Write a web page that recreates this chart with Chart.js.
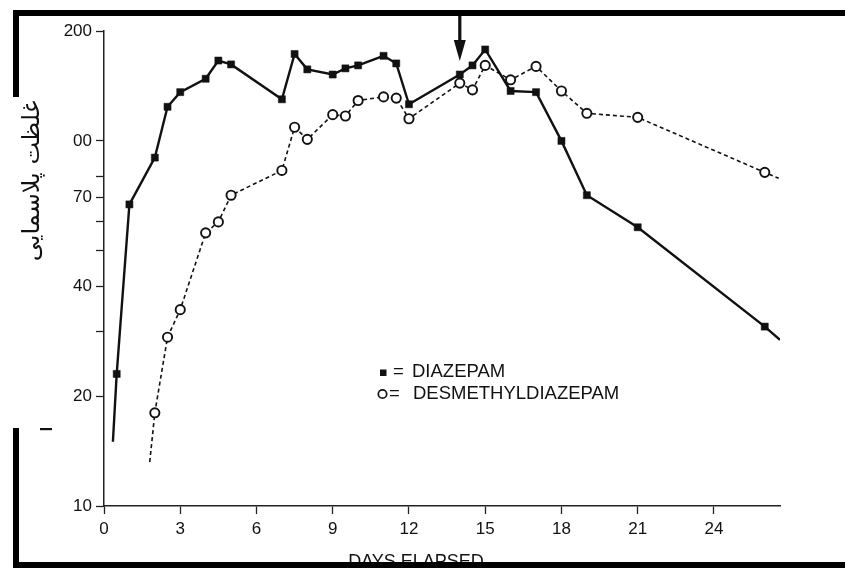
<!DOCTYPE html>
<html>
<head>
<meta charset="utf-8">
<script src="https://cdn.jsdelivr.net/npm/chart.js@4.4.1/dist/chart.umd.min.js"></script>
<style>
  html, body { margin: 0; padding: 0; background: #fff; }
  #plasmaChart { display: block; }
</style>
</head>
<body>
<canvas id="plasmaChart" width="845" height="568"></canvas>
<script>
// Days after the first dose; first and last entries are the unmarked line ends
const diazepamDays = [0.35, 0.5, 1, 2, 2.5, 3, 4, 4.5, 5, 7, 7.5, 8, 9, 9.5, 10, 11, 11.5, 12, 14, 14.5, 15, 16, 17, 18, 19, 21, 26, 26.6];
const diazepamLevels = [15, 23, 67, 90, 124, 136, 148, 166, 162, 130, 173, 157, 152, 158, 161, 171, 163, 126, 152, 161, 178, 137, 136, 100, 71, 58, 31, 28.5];

const desmethylDays = [1.8, 2, 2.5, 3, 4, 4.5, 5, 7, 7.5, 8, 9, 9.5, 10, 11, 11.5, 12, 14, 14.5, 15, 16, 17, 18, 19, 21, 26, 26.55];
const desmethylLevels = [13.2, 18, 29, 34.5, 56, 60, 71, 83, 109, 101, 118, 117, 129, 132, 131, 115, 144, 138, 161, 147, 160, 137, 119, 116, 82, 79];

const xTicks = [0, 3, 6, 9, 12, 15, 18, 21, 24];
const yTicks = [10, 20, 30, 40, 50, 60, 70, 80, 100, 200];
const yTickLabels = ['10', '20', '', '40', '', '', '70', '', '00', '200'];

const arrowDay = 14;
const yTitle = 'غلظت پلاسمایی';
const xTitle = 'DAYS ELAPSED';

const FONT = '"Liberation Sans", Arial, Helvetica, sans-serif';
const INK = '#111';

const toPoints = (xs, ys) => xs.map((x, i) => ({ x: x, y: ys[i] }));
// line ends carry no marker
const endless = (r) => (ctx) => {
    const n = ctx.dataset.data.length;
    return (ctx.dataIndex === 0 || ctx.dataIndex === n - 1) ? 0 : r;
};

const decorations = {
    id: 'decorations',
    afterDraw(chart) {
        const c = chart.ctx;
        const xs = chart.scales.x;
        c.save();

        // rotated y axis title
        c.save();
        c.translate(33, 181);
        c.rotate(-Math.PI / 2);
        c.font = '24px "DejaVu Sans", sans-serif';
        c.fillStyle = INK;
        c.textAlign = 'center';
        c.textBaseline = 'middle';
        c.fillText(yTitle, 0, 0);
        c.restore();

        // arrow marking the last dose
        const ax = xs.getPixelForValue(arrowDay);
        c.fillStyle = INK;
        c.fillRect(ax - 1.6, 16, 3.2, 26);
        c.beginPath();
        c.moveTo(ax - 6, 40);
        c.lineTo(ax + 6, 40);
        c.lineTo(ax, 61);
        c.closePath();
        c.fill();

        // key
        c.font = '18.5px ' + FONT;
        c.textBaseline = 'middle';
        c.textAlign = 'left';
        c.fillRect(380, 369.5, 6.5, 6.5);
        c.fillText('=', 393, 372);
        c.fillText(chart.data.datasets[0].label, 412, 372);
        c.beginPath();
        c.arc(382.5, 394, 4.2, 0, Math.PI * 2);
        c.fillStyle = '#fff';
        c.fill();
        c.lineWidth = 1.7;
        c.strokeStyle = INK;
        c.stroke();
        c.fillStyle = INK;
        c.fillText('=', 389, 394);
        c.fillText(chart.data.datasets[1].label, 413, 394);

        // x axis title, partly covered by the frame
        c.font = '18px ' + FONT;
        c.textAlign = 'center';
        c.textBaseline = 'alphabetic';
        c.fillText(xTitle, 416, 567);

        // stray mark left of the axis
        c.fillRect(40, 428, 12, 2.2);

        // black frame pieces
        c.fillStyle = '#000';
        c.fillRect(14, 10, 831, 6);
        c.fillRect(13, 10, 6, 87);
        c.fillRect(13, 428, 6, 140);
        c.fillRect(13, 562, 832, 6);

        c.restore();
    }
};

const ctx = document.getElementById('plasmaChart');
new Chart(ctx, {
    type: 'line',
    data: {
        datasets: [{
            label: 'DIAZEPAM',
            data: toPoints(diazepamDays, diazepamLevels),
            borderColor: INK,
            borderWidth: 2.4,
            pointStyle: 'rect',
            pointRadius: endless(5),
            pointBackgroundColor: INK,
            pointBorderColor: INK,
            pointBorderWidth: 0.5,
            tension: 0,
        }, {
            label: 'DESMETHYLDIAZEPAM',
            data: toPoints(desmethylDays, desmethylLevels),
            borderColor: INK,
            borderWidth: 1.6,
            borderDash: [4, 3],
            pointStyle: 'circle',
            pointRadius: endless(4.6),
            pointBackgroundColor: '#fff',
            pointBorderColor: INK,
            pointBorderWidth: 1.9,
            tension: 0,
        }],
    },
    options: {
        responsive: false,
        animation: false,
        events: [],
        layout: { padding: { top: 31, right: 65, bottom: 0, left: 0 } },
        plugins: {
            legend: { display: false },
            tooltip: { enabled: false },
        },
        scales: {
            x: {
                type: 'linear',
                min: 0,
                max: 26.6,
                afterBuildTicks: (s) => { s.ticks = xTicks.map(v => ({ value: v })); },
                afterFit: (s) => { s.height = 62; },
                grid: { drawOnChartArea: false, tickLength: 8, color: '#222', tickWidth: 1.3 },
                border: { color: '#222', width: 1.5 },
                ticks: { color: INK, font: { family: FONT, size: 17 }, padding: 5, maxRotation: 0, autoSkip: false },
            },
            y: {
                type: 'logarithmic',
                min: 10,
                max: 200,
                afterBuildTicks: (s) => { s.ticks = yTicks.map(v => ({ value: v })); },
                afterFit: (s) => { s.width = 104; },
                grid: { drawOnChartArea: false, tickLength: 8, color: '#222', tickWidth: 1.3 },
                border: { color: '#222', width: 1.5 },
                ticks: {
                    color: INK,
                    font: { family: FONT, size: 17 },
                    padding: 4,
                    autoSkip: false,
                    callback: (value, index) => yTickLabels[index],
                },
            },
        },
    },
    plugins: [decorations],
});
</script>
</body>
</html>
